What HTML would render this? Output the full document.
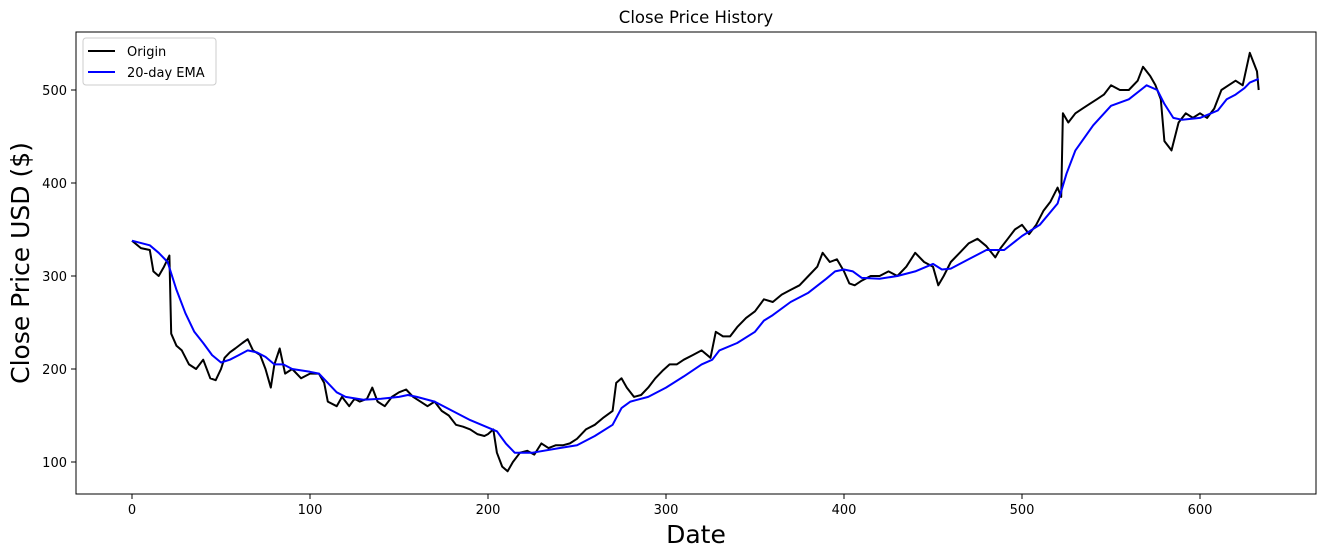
<!DOCTYPE html>
<html><head><meta charset="utf-8"><style>
body{margin:0;background:#fff;}
svg{display:block;font-family:"DejaVu Sans","Liberation Sans",sans-serif;}
</style></head><body>
<svg id="chart" width="1325" height="557">
<rect x="0" y="0" width="1325" height="557" fill="#fff"/>
<text x="696" y="23" text-anchor="middle" font-size="16.5">Close Price History</text>
<text x="696" y="543" text-anchor="middle" font-size="25">Date</text>
<text transform="translate(29,263) rotate(-90)" text-anchor="middle" font-size="25">Close Price USD ($)</text>
<g id="ticks"></g>
<g id="lines"></g>
<rect x="76" y="32" width="1240" height="462" fill="none" stroke="#000" stroke-width="1"/>
<g>
<rect x="83" y="38" width="133" height="47" rx="3" fill="#fff" fill-opacity="0.8" stroke="#ccc"/>
<line x1="88" y1="51" x2="115" y2="51" stroke="#000" stroke-width="2"/>
<text x="127" y="56" font-size="13">Origin</text>
<line x1="88" y1="72" x2="115" y2="72" stroke="#0000ff" stroke-width="2"/>
<text x="127" y="77" font-size="13">20-day EMA</text>
</g>
</svg>
<script>
const xTicks=[0,100,200,300,400,500,600];
const yTicks=[100,200,300,400,500];
const originIdx=[0,5,10,12,15,18,21,22,25,28,32,36,40,44,47,50,52,55,58,62,65,68,72,75,78,80,83,86,90,95,100,105,108,110,115,118,122,125,128,132,135,138,142,146,150,154,158,162,166,170,174,178,182,186,190,194,198,200,203,205,208,211,214,218,222,226,230,234,238,242,246,250,255,260,265,270,272,275,278,282,286,290,294,298,302,306,310,315,320,325,328,332,336,340,345,350,355,360,365,370,375,380,385,388,392,396,400,403,406,410,415,420,425,430,435,440,445,450,453,456,460,465,470,475,480,485,488,492,496,500,504,508,512,516,520,522,523,526,530,534,538,542,546,550,555,560,565,568,572,575,578,580,584,588,592,596,600,604,608,612,616,620,624,628,630,632,633];
const originVal=[338,330,328,305,300,310,322,238,225,220,205,200,210,190,188,200,212,218,222,228,232,220,215,200,180,205,222,195,200,190,195,195,185,165,160,170,160,168,165,168,180,165,160,170,175,178,170,165,160,165,155,150,140,138,135,130,128,130,135,110,95,90,100,110,112,108,120,115,118,118,120,125,135,140,148,155,185,190,180,170,172,180,190,198,205,205,210,215,220,212,240,235,235,245,255,262,275,272,280,285,290,300,310,325,315,318,305,292,290,295,300,300,305,300,310,325,315,310,290,300,315,325,335,340,332,320,330,340,350,355,345,355,370,380,395,385,475,465,475,480,485,490,495,505,500,500,510,525,515,505,490,445,435,465,475,470,475,470,480,500,505,510,505,540,530,520,500];
const emaIdx=[0,10,15,20,25,30,35,40,45,50,55,60,65,70,75,80,85,90,100,105,110,115,120,130,140,150,155,160,170,180,190,200,205,210,215,225,240,250,260,270,275,280,290,300,310,320,326,330,340,350,355,360,370,380,390,395,400,405,410,420,430,440,450,455,460,470,480,490,500,510,520,525,530,540,550,560,570,576,580,585,590,600,610,615,620,625,628,633];
const emaVal=[338,333,325,315,285,260,240,228,215,207,210,215,220,218,213,205,205,200,197,195,185,175,170,167,168,170,172,170,165,155,145,137,133,120,110,110,115,118,128,140,158,165,170,180,192,205,210,220,228,240,252,258,272,282,297,305,307,305,298,297,300,305,313,307,308,318,328,328,343,355,378,410,435,462,483,490,505,500,485,470,468,470,478,490,495,502,508,512];
const X=i=>132+i*1.78;
const Y=v=>462-(v-100)*0.93;
const NS="http://www.w3.org/2000/svg";
const tg=document.getElementById('ticks');
xTicks.forEach(t=>{
 const l=document.createElementNS(NS,'line');
 l.setAttribute('x1',X(t));l.setAttribute('x2',X(t));l.setAttribute('y1',494);l.setAttribute('y2',499);l.setAttribute('stroke','#000');
 
 
 tg.appendChild(l);
 const tx=document.createElementNS(NS,'text');
 tx.setAttribute('x',X(t));tx.setAttribute('y',514);tx.setAttribute('text-anchor','middle');tx.setAttribute('font-size','13');
 tx.textContent=t;
 
 
 tg.appendChild(tx);
});
yTicks.forEach(t=>{
 const l=document.createElementNS(NS,'line');
 l.setAttribute('x1',71);l.setAttribute('x2',76);l.setAttribute('y1',Y(t));l.setAttribute('y2',Y(t));l.setAttribute('stroke','#000');
 
 
 tg.appendChild(l);
 const tx=document.createElementNS(NS,'text');
 tx.setAttribute('x',67);tx.setAttribute('y',Y(t)+5);tx.setAttribute('text-anchor','end');tx.setAttribute('font-size','13');
 tx.textContent=t;
 
 
 tg.appendChild(tx);
});
const lg=document.getElementById('lines');
function line(idx,val,color,name){
 const p=document.createElementNS(NS,'polyline');
 p.setAttribute('points',idx.map((i,k)=>X(i).toFixed(1)+','+Y(val[k]).toFixed(1)).join(' '));
 p.setAttribute('fill','none');p.setAttribute('stroke',color);p.setAttribute('stroke-width','2');p.setAttribute('stroke-linejoin','round');
 
 
 lg.appendChild(p);
}
line(originIdx,originVal,'#000','origin-line');
line(emaIdx,emaVal,'#0000ff','ema-line');
</script>
</body></html>
